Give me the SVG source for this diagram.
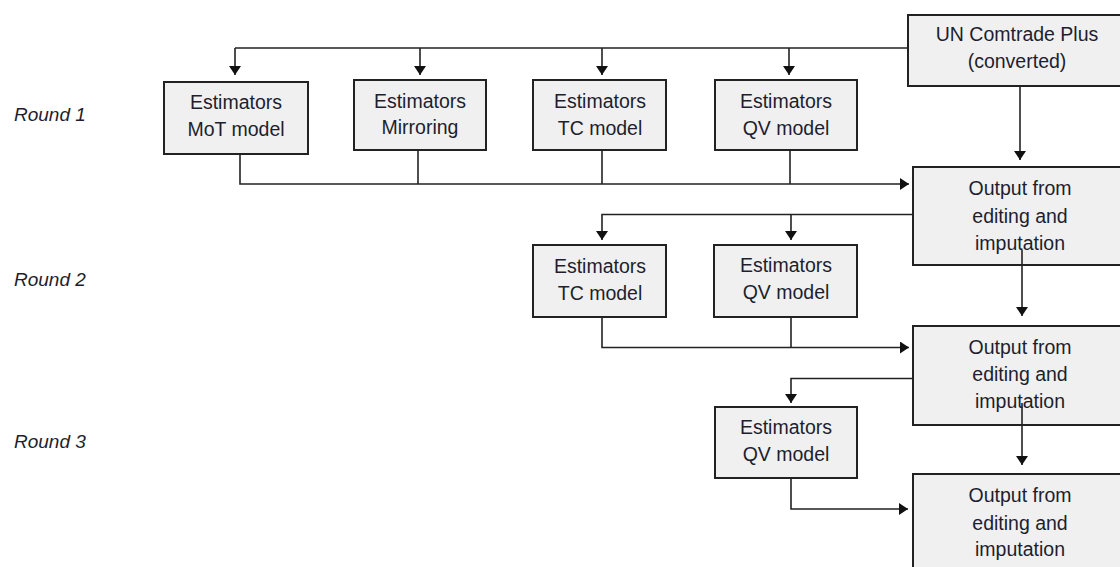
<svg xmlns="http://www.w3.org/2000/svg" width="1120" height="567" viewBox="0 0 1120 567">
<style>
.box{fill:#f0f0f0;stroke:#222;stroke-width:2}
.t{font-family:"Liberation Sans",Arial,sans-serif;font-size:19.5px;fill:#1e1e2e;text-anchor:middle}
.r{font-family:"Liberation Sans",Arial,sans-serif;font-size:19px;font-style:italic;fill:#1e1e2e}
.c{fill:none;stroke:#222;stroke-width:1.6}
</style>
<defs>
<marker id="ah" markerUnits="userSpaceOnUse" markerWidth="10" markerHeight="12" refX="9" refY="6" orient="auto">
<path d="M0,0 L9,6 L0,12 z" fill="#111"/>
</marker>
</defs>
<rect width="1120" height="567" fill="#fff"/>
<g id="labels">
<text class="r" x="14" y="121">Round 1</text>
<text class="r" x="14" y="286">Round 2</text>
<text class="r" x="14" y="448">Round 3</text>
</g>
<g id="un">
<rect class="box" x="908" y="15" width="216" height="71"/>
<text class="t" x="1017" y="41">UN Comtrade Plus</text>
<text class="t" x="1017" y="68">(converted)</text>
</g>
<g id="r1-mot">
<rect class="box" x="164" y="82" width="144" height="72"/>
<text class="t" x="236" y="109">Estimators</text>
<text class="t" x="236" y="136">MoT model</text>
</g>
<g id="r1-mirroring">
<rect class="box" x="354" y="80" width="132" height="70"/>
<text class="t" x="420" y="107.5">Estimators</text>
<text class="t" x="420" y="134">Mirroring</text>
</g>
<g id="r1-tc">
<rect class="box" x="533" y="80" width="133" height="70"/>
<text class="t" x="600" y="108">Estimators</text>
<text class="t" x="600" y="135">TC model</text>
</g>
<g id="r1-qv">
<rect class="box" x="715" y="80" width="142" height="70"/>
<text class="t" x="786" y="108">Estimators</text>
<text class="t" x="786" y="135">QV model</text>
</g>
<g id="out1">
<rect class="box" x="913" y="167" width="214" height="98"/>
<text class="t" x="1020" y="195">Output from</text>
<text class="t" x="1020" y="222.5">editing and</text>
<text class="t" x="1020" y="249.5">imputation</text>
</g>
<g id="r2-tc">
<rect class="box" x="533" y="245" width="133" height="72"/>
<text class="t" x="600" y="273">Estimators</text>
<text class="t" x="600" y="300">TC model</text>
</g>
<g id="r2-qv">
<rect class="box" x="714" y="245" width="143" height="72"/>
<text class="t" x="786" y="272">Estimators</text>
<text class="t" x="786" y="298.5">QV model</text>
</g>
<g id="out2">
<rect class="box" x="913" y="326" width="214" height="99"/>
<text class="t" x="1020" y="353.5">Output from</text>
<text class="t" x="1020" y="381">editing and</text>
<text class="t" x="1020" y="407.5">imputation</text>
</g>
<g id="r3-qv">
<rect class="box" x="715" y="407" width="142" height="71"/>
<text class="t" x="786" y="433.5">Estimators</text>
<text class="t" x="786" y="460.5">QV model</text>
</g>
<g id="out3">
<rect class="box" x="913" y="474" width="214" height="100"/>
<text class="t" x="1020" y="502">Output from</text>
<text class="t" x="1020" y="529.5">editing and</text>
<text class="t" x="1020" y="556">imputation</text>
</g>
<g id="connectors">
<path class="c" d="M907,48 H235 M235,48 V75" marker-end="url(#ah)"/>
<path class="c" d="M420,48 V75" marker-end="url(#ah)"/>
<path class="c" d="M602,48 V75" marker-end="url(#ah)"/>
<path class="c" d="M789,48 V75" marker-end="url(#ah)"/>
<path class="c" d="M240,155 V184 H909" marker-end="url(#ah)"/>
<path class="c" d="M418,151 V184"/>
<path class="c" d="M602,151 V184"/>
<path class="c" d="M790,151 V184"/>
<path class="c" d="M1020,87 V160" marker-end="url(#ah)"/>
<path class="c" d="M912,214.5 H602 V240" marker-end="url(#ah)"/>
<path class="c" d="M791,214.5 V240" marker-end="url(#ah)"/>
<path class="c" d="M602,318 V347.5 H909" marker-end="url(#ah)"/>
<path class="c" d="M791,318 V347.5"/>
<path class="c" d="M1022,250 V316" marker-end="url(#ah)"/>
<path class="c" d="M912,378.5 H791 V403" marker-end="url(#ah)"/>
<path class="c" d="M791,479 V509 H908" marker-end="url(#ah)"/>
<path class="c" d="M1022,403 V465" marker-end="url(#ah)"/>
</g>
</svg>
